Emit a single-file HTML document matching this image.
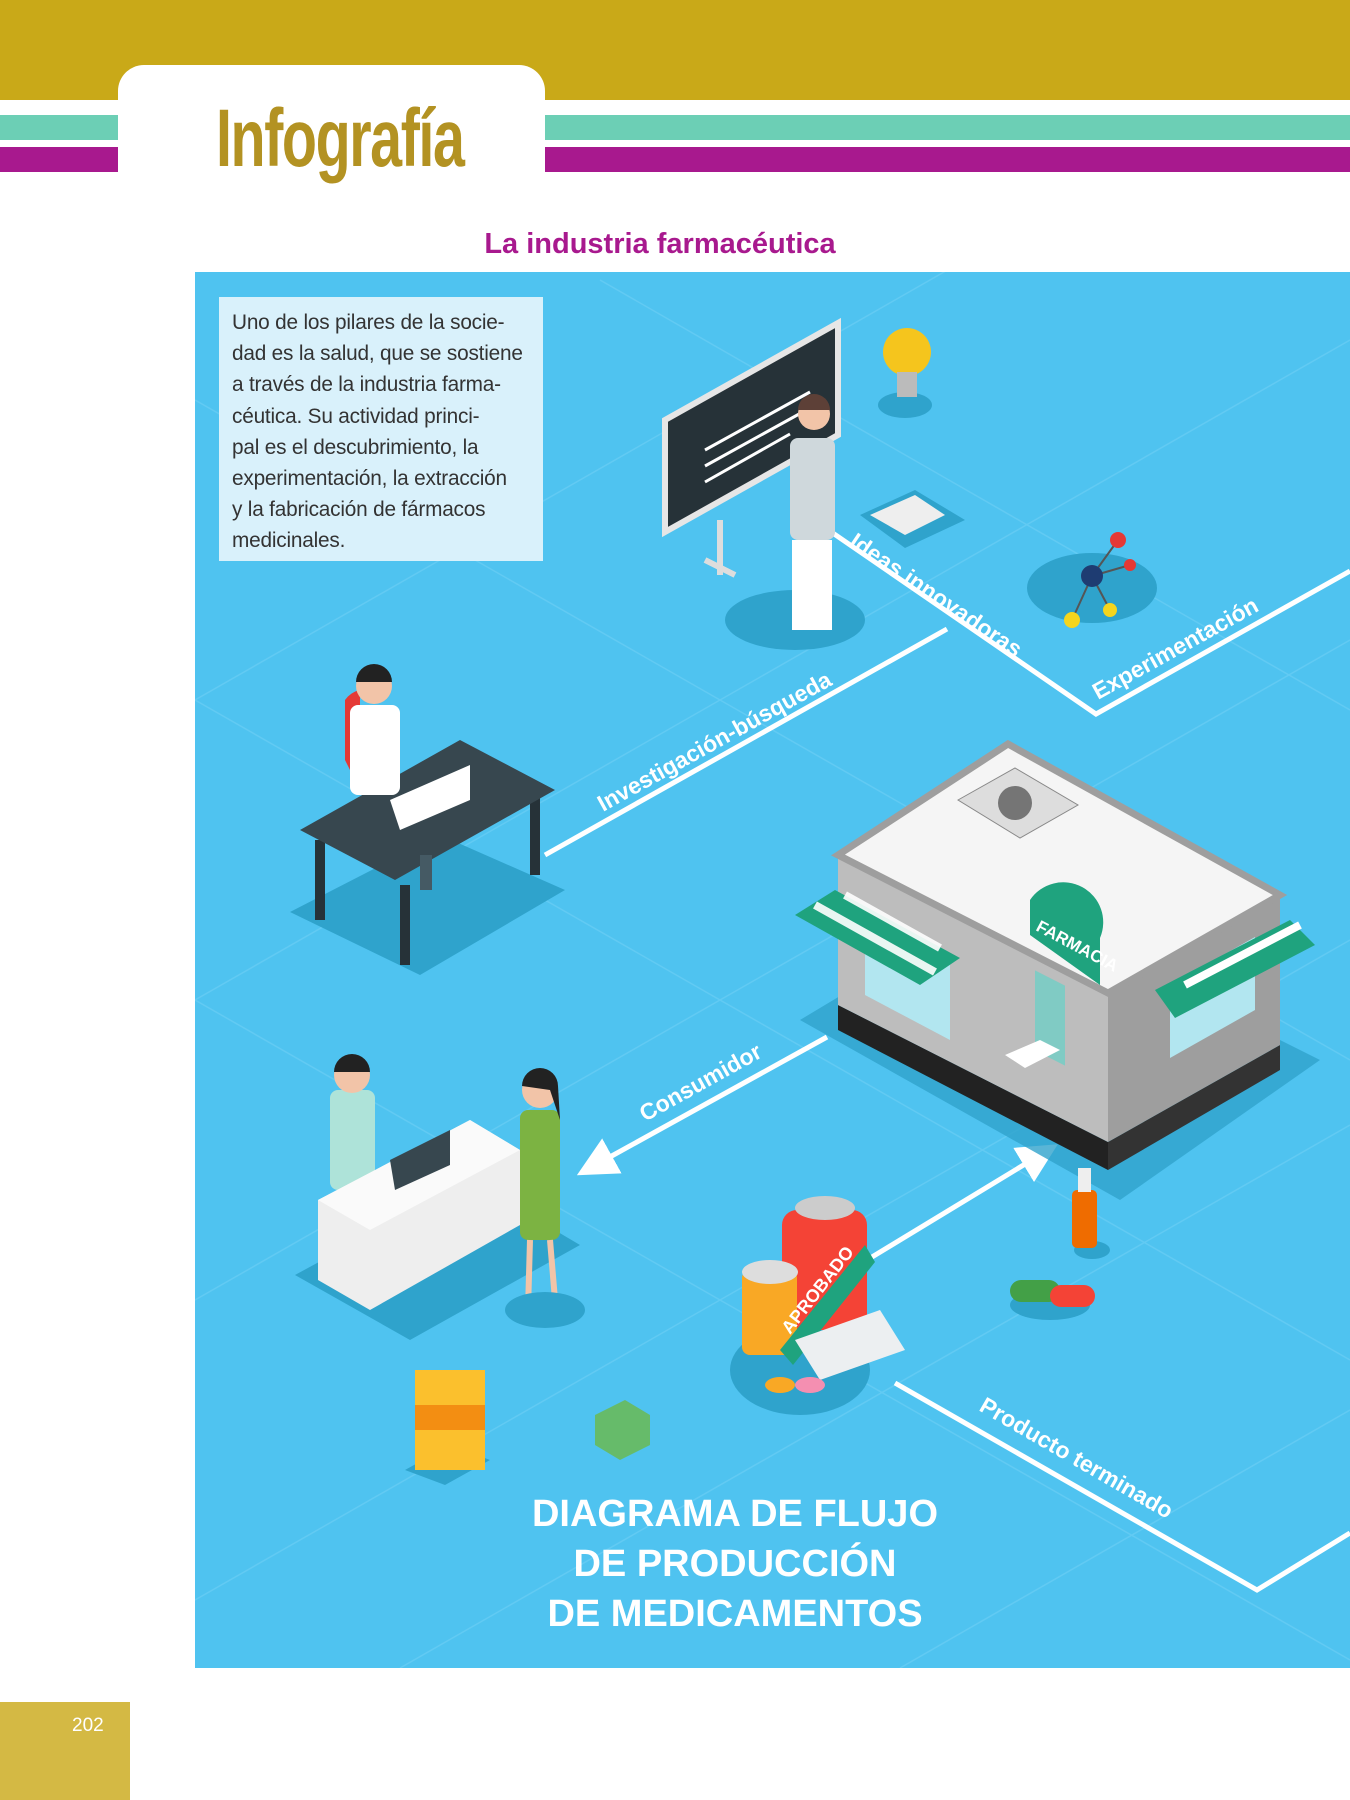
<!DOCTYPE html>
<html><head><meta charset="utf-8"><style>
body{margin:0;width:1350px;height:1800px;position:relative;background:#fff;overflow:hidden;font-family:"Liberation Sans",sans-serif}
.a{position:absolute}
</style></head><body>
<div class="a" style="left:0;top:0;width:1350px;height:100px;background:#c9a918"></div>
<div class="a" style="left:0;top:115px;width:1350px;height:25px;background:#6ccfb5"></div>
<div class="a" style="left:0;top:147px;width:1350px;height:25px;background:#a8198e"></div>
<div class="a" style="left:118px;top:65px;width:427px;height:110px;background:#fff;border-radius:26px 26px 0 0"></div>
<div class="a" style="left:216px;top:92px;font-family:'Liberation Sans Narrow','Liberation Sans',sans-serif;font-size:82px;font-weight:600;color:#b39222;letter-spacing:-2px;transform:scaleX(.7);transform-origin:left">Infografía</div>
<div class="a" style="left:0;top:228px;width:1320px;text-align:center;font-size:29px;font-weight:bold;color:#a8198e">La industria farmacéutica</div>
<div class="a" style="left:195px;top:272px;width:1155px;height:1396px;background:#4fc3f0"></div>
<svg class="a" style="left:0;top:0" width="1350" height="1800">
<defs><clipPath id="c"><rect x="195" y="272" width="1155" height="1396"/></clipPath>
<marker id="ar" markerWidth="8" markerHeight="8" refX="5" refY="4" orient="auto"><path d="M0,0 L8,4 L0,8 z" fill="#fff"/></marker></defs>
<g clip-path="url(#c)" stroke="#6fd0f5" stroke-width="1.5" opacity=".6">
<path d="M195,700 L1350,40 M195,1000 L1350,340 M195,1300 L1350,640 M195,1600 L1350,940 M400,1668 L1350,1125 M900,1668 L1350,1410"/>
<path d="M195,400 L1350,1060 M195,700 L1350,1360 M195,1000 L1350,1660 M600,280 L1350,710"/>
</g>
<g stroke="#fff" stroke-width="5" fill="none">
<path d="M545,855 L947,629"/>
<path d="M792,505 L1096,714 L1350,571"/>
<path d="M827,1037 L590,1168" marker-end="url(#ar)"/>
<path d="M872,1257 L1045,1152" marker-end="url(#ar)"/>
<path d="M895,1383 L1257,1590 L1350,1533"/>
</g>
<g>
<ellipse cx="795" cy="620" rx="70" ry="30" fill="#2fa3cc"/>
<path d="M720,520 L720,575 M735,575 L705,560" stroke="#ddd" stroke-width="6"/>
<polygon points="665,420 838,323 838,435 665,532" fill="#263238" stroke="#e6e6e6" stroke-width="6"/>
<path d="M705,450 L810,392 M705,466 L810,408 M705,482 L790,434" stroke="#fff" stroke-width="3"/>
<rect x="790" y="438" width="45" height="102" rx="8" fill="#cfd8dc"/><rect x="792" y="540" width="40" height="90" fill="#fff"/>
<circle cx="814" cy="414" r="16" fill="#f2c4a8"/><path d="M798,410 a16,16 0 0 1 32,0" fill="#5d4037"/>
<ellipse cx="905" cy="405" rx="27" ry="13" fill="#2fa3cc"/><circle cx="907" cy="352" r="24" fill="#f5c51d"/><rect x="897" y="372" width="20" height="25" fill="#bbb"/>
<ellipse cx="1092" cy="588" rx="65" ry="35" fill="#2fa3cc"/>
<path d="M1092,576 L1118,540 M1092,576 L1072,620 M1092,576 L1110,610 M1092,576 L1130,565" stroke="#555" stroke-width="2"/>
<circle cx="1092" cy="576" r="11" fill="#1e3c72"/><circle cx="1118" cy="540" r="8" fill="#e53935"/><circle cx="1072" cy="620" r="8" fill="#f5d51d"/><circle cx="1110" cy="610" r="7" fill="#f5d51d"/><circle cx="1130" cy="565" r="6" fill="#e53935"/>
<polygon points="860,515 915,490 965,520 905,548" fill="#2fa3cc"/><polygon points="870,515 915,495 945,515 905,535" fill="#eee"/>
<polygon points="290,912 440,835 565,890 420,975" fill="#2fa3cc"/>
<rect x="315" y="840" width="10" height="80" fill="#263238"/><rect x="400" y="885" width="10" height="80" fill="#263238"/><rect x="530" y="795" width="10" height="80" fill="#263238"/>
<polygon points="300,830 460,740 555,790 395,880" fill="#37474f"/>
<path d="M345,760 L345,700 a25,25 0 0 1 15,-10 L360,790z" fill="#e53935"/>
<rect x="350" y="705" width="50" height="90" rx="8" fill="#fff"/><circle cx="374" cy="686" r="18" fill="#f2c4a8"/><path d="M356,682 a18,18 0 0 1 36,0" fill="#222"/>
<polygon points="390,800 470,765 470,800 400,830" fill="#fff"/>
<rect x="420" y="855" width="12" height="35" fill="#455a64"/>
<polygon points="800,1020 1000,900 1320,1060 1120,1200" fill="#2fa3cc" opacity=".8"/>
<polygon points="838,1005 1108,1142 1108,1170 838,1030" fill="#222"/>
<polygon points="1108,1142 1280,1045 1280,1070 1108,1170" fill="#333"/>
<polygon points="838,855 1108,993 1108,1142 838,1005" fill="#bdbdbd"/>
<polygon points="1108,993 1280,895 1280,1045 1108,1142" fill="#9e9e9e"/>
<polygon points="865,920 950,965 950,1040 865,995" fill="#b2e6f0"/>
<polygon points="1170,985 1255,937 1255,1010 1170,1058" fill="#b2e6f0"/>
<rect x="1035" y="970" width="30" height="80" fill="#80cbc4" transform="skewY(27) translate(0,-527)"/>
<polygon points="838,855 1008,744 1280,895 1108,993" fill="#f5f5f5" stroke="#9e9e9e" stroke-width="7"/>
<polygon points="958,800 1015,768 1078,805 1020,838" fill="#ddd" stroke="#888"/>
<circle cx="1015" cy="803" r="17" fill="#757575"/>
<g fill="#1fa37e"><polygon points="795,915 835,890 960,958 920,985"/><polygon points="1155,990 1290,920 1315,945 1175,1018"/></g>
<g stroke="#fff" stroke-width="8"><path d="M815,905 L935,972 M845,895 L940,948" opacity=".9"/><path d="M1185,985 L1300,925" /></g>
<path d="M1030,935 L1030,900 a40,40 0 0 1 70,38 L1100,985 Z" fill="#1fa37e"/>
<text x="1035" y="930" transform="rotate(28 1035 930)" font-size="17" font-weight="bold" fill="#fff">FARMACIA</text>
<polygon points="1005,1055 1040,1040 1060,1050 1025,1068" fill="#fff"/>
<polygon points="295,1275 470,1180 580,1245 410,1340" fill="#2fa3cc"/>
<rect x="330" y="1090" width="45" height="100" rx="8" fill="#aee3d9"/><circle cx="352" cy="1075" r="18" fill="#f2c4a8"/><path d="M334,1072 a18,18 0 0 1 36,0" fill="#222"/>
<polygon points="318,1200 470,1120 520,1150 520,1225 370,1310 318,1280" fill="#eeeeee"/>
<polygon points="318,1200 470,1120 520,1150 370,1230" fill="#fafafa"/>
<polygon points="390,1160 450,1130 450,1165 395,1190" fill="#37474f"/>
<rect x="520" y="1110" width="40" height="130" rx="8" fill="#7cb342"/><circle cx="540" cy="1090" r="18" fill="#f2c4a8"/><path d="M522,1086 a18,18 0 0 1 36,0 L560,1120 L550,1090z" fill="#222"/>
<path d="M530,1240 L528,1310 M550,1240 L555,1300" stroke="#f2c4a8" stroke-width="6"/>
<ellipse cx="545" cy="1310" rx="40" ry="18" fill="#2fa3cc"/>
<ellipse cx="800" cy="1370" rx="70" ry="45" fill="#2fa3cc"/>
<rect x="782" y="1210" width="85" height="120" rx="15" fill="#f44336"/><ellipse cx="825" cy="1208" rx="30" ry="12" fill="#ccc"/>
<rect x="742" y="1270" width="55" height="85" rx="8" fill="#f9a825"/><ellipse cx="770" cy="1272" rx="28" ry="12" fill="#ddd"/>
<polygon points="780,1350 865,1245 875,1262 793,1365" fill="#1fa37e"/>
<polygon points="795,1340 880,1310 905,1350 820,1380" fill="#eceff1"/>
<ellipse cx="780" cy="1385" rx="15" ry="8" fill="#f9a825"/><ellipse cx="810" cy="1385" rx="15" ry="8" fill="#f48fb1"/>
<polygon points="405,1470 445,1485 490,1460 450,1445" fill="#2fa3cc"/>
<rect x="415" y="1370" width="70" height="100" fill="#fbc02d"/><rect x="415" y="1405" width="70" height="25" fill="#ef6c00" opacity=".6"/>
<polygon points="595,1415 625,1400 650,1415 650,1445 620,1460 595,1445" fill="#66bb6a"/>
<ellipse cx="1092" cy="1250" rx="18" ry="9" fill="#2fa3cc"/>
<rect x="1072" y="1190" width="25" height="58" rx="5" fill="#ef6c00"/><rect x="1078" y="1168" width="13" height="24" fill="#eee"/>
<ellipse cx="1050" cy="1305" rx="40" ry="15" fill="#2fa3cc"/>
<rect x="1010" y="1280" width="50" height="22" rx="11" fill="#43a047"/><rect x="1050" y="1285" width="45" height="22" rx="11" fill="#f44336"/>
</g>
<g fill="#fff" font-weight="bold" font-size="23">
<text x="603" y="812" transform="rotate(-29 603 812)">Investigación-búsqueda</text>
<text x="848" y="545" transform="rotate(34 848 545)">Ideas innovadoras</text>
<text x="1098" y="700" transform="rotate(-29 1098 700)">Experimentación</text>
<text x="645" y="1122" transform="rotate(-29 645 1122)">Consumidor</text>
<text x="978" y="1410" transform="rotate(30 978 1410)">Producto terminado</text>
<text x="790" y="1335" transform="rotate(-52 790 1335)" font-size="18">APROBADO</text>
</g>
</svg>
<div class="a" style="left:219px;top:297px;width:324px;height:264px;background:#d9f1fb"></div>
<div class="a" style="left:232px;top:307px;width:320px;font-size:20.8px;line-height:31.2px;color:#333;white-space:nowrap;letter-spacing:-0.2px">Uno de los pilares de la socie-<br>dad es la salud, que se sostiene<br>a través de la industria farma-<br>céutica. Su actividad princi-<br>pal es el descubrimiento, la<br>experimentación, la extracción<br>y la fabricación de fármacos<br>medicinales.</div>
<div class="a" style="left:335px;top:1489px;width:800px;text-align:center;color:#fff;font-weight:bold;font-size:38px;line-height:50px">DIAGRAMA DE FLUJO<br>DE PRODUCCIÓN<br>DE MEDICAMENTOS</div>
<div class="a" style="left:0;top:1702px;width:130px;height:98px;background:#d4b944"></div>
<div class="a" style="left:72px;top:1715px;color:#fff;font-size:19px">202</div>
</body></html>
